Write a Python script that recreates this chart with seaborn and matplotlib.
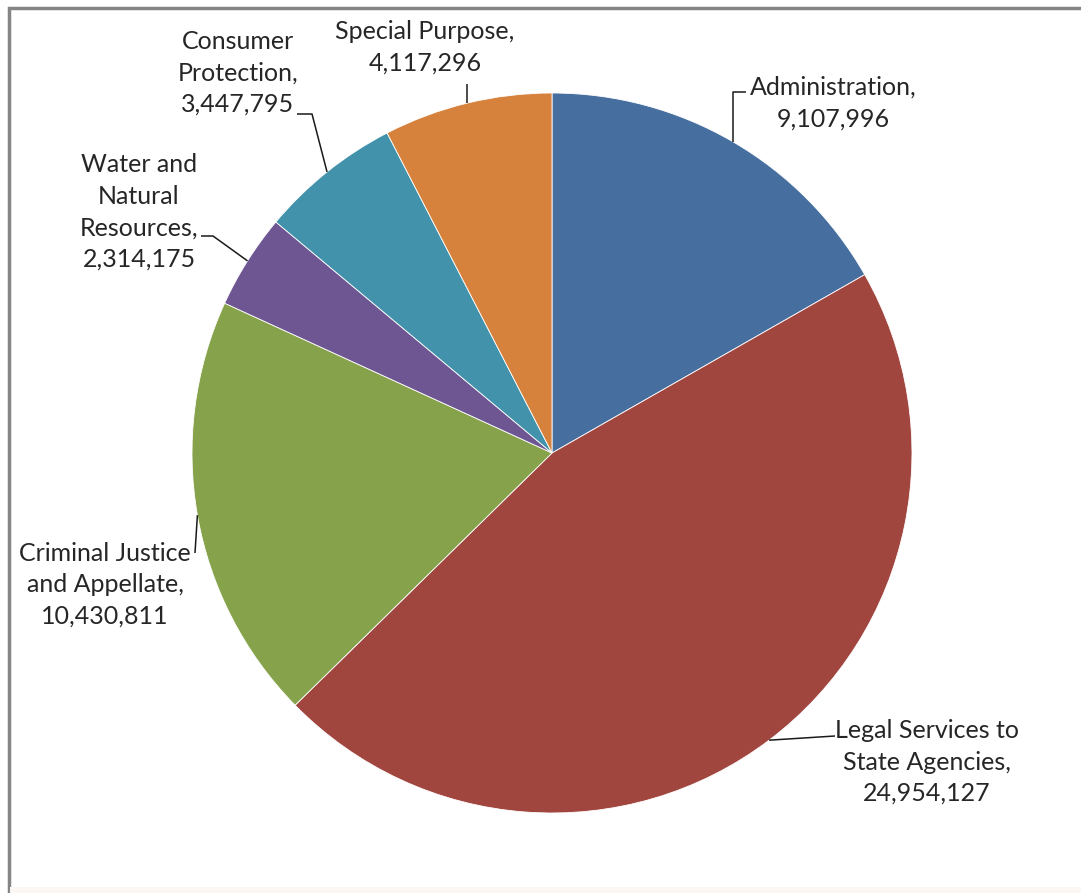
import numpy as np
import matplotlib
matplotlib.use("Agg")
import matplotlib.pyplot as plt
import seaborn as sns
from matplotlib.patches import Rectangle

categories = ["Administration", "Legal Services to\nState Agencies", "Criminal Justice\nand Appellate",
              "Water and\nNatural\nResources", "Consumer\nProtection", "Special Purpose"]
values = [9107996, 24954127, 10430811, 2314175, 3447795, 4117296]
colors = ["#466FA0", "#A1453F", "#86A24B", "#6E5692", "#4192AA", "#D6823D"]

sns.set_theme(style="white")
plt.rcParams['font.family'] = ['Lato', 'DejaVu Sans']

W, H = 1081, 893
CX, CY, R = 552, 453, 360

fig = plt.figure(figsize=(W / 100, H / 100), dpi=100)
fig.patch.set_facecolor("white")
ax = fig.add_axes([0, 0, 1, 1])

pal = sns.color_palette(colors)
wedges, _ = ax.pie(values, colors=pal, startangle=90, counterclock=False, radius=1.0,
                   wedgeprops=dict(linewidth=0.6, edgecolor="white"))
ax.set_xlim(-CX / R, (W - CX) / R)
ax.set_ylim(-(H - CY) / R, CY / R)
ax.set_aspect("auto")
ax.axis("off")


def px(x, y):
    return (x - CX) / R, (CY - y) / R


# label layout: text centre (px) and leader elbow points (px)
layout = [
    ((833, 103), [(None, 92), (746, 92)]),
    ((927, 762), [(835, 736)]),
    ((105, 585), [(195, 553)]),
    ((139, 212), [(213, 236), (201, 236)]),
    ((238, 73), [(312, 114), (297, 114)]),
    ((425, 47), [(None, 84)]),
]

for w, cat, val, (tc, elbows) in zip(wedges, categories, values, layout):
    mid = np.deg2rad((w.theta1 + w.theta2) / 2)
    ax_, ay_ = np.cos(mid), np.sin(mid)
    xs, ys = [ax_], [ay_]
    for ex, ey in elbows:
        dx, dy = px(ex if ex is not None else 0, ey)
        if ex is None:
            dx = ax_
        xs.append(dx)
        ys.append(dy)
    ax.plot(xs, ys, color="#1a1a1a", lw=1.1, solid_capstyle="butt")
    tx, ty = px(*tc)
    ax.text(tx, ty, f"{cat},\n{val:,}", ha="center", va="center", fontsize=18,
            color="#262626", linespacing=1.45)

# chart frame
fig.patches.append(Rectangle((9 / W, -0.05), 1.1, (H - 8) / H + 0.05, transform=fig.transFigure,
                             fill=False, edgecolor="#858585", linewidth=2.5))
fig.patches.append(Rectangle((10 / W, 0), 1.0, 6 / H, transform=fig.transFigure,
                             facecolor="#FCF7F2", edgecolor="none"))

fig.savefig("out.png", dpi=100)
